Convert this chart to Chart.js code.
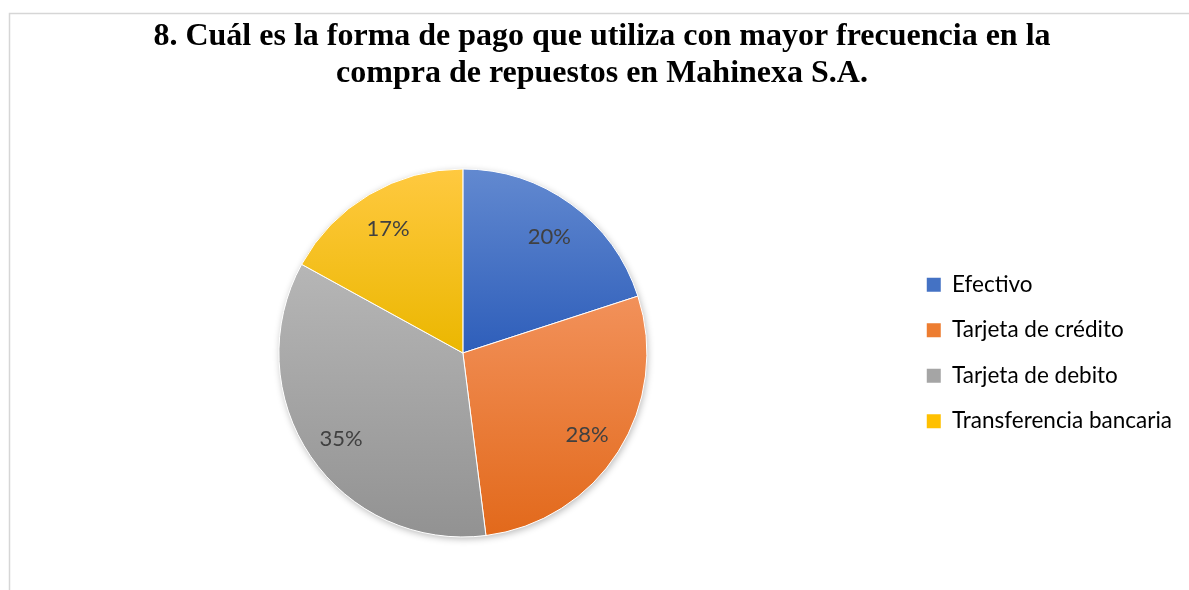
<!DOCTYPE html>
<html>
<head>
<meta charset="utf-8">
<style>
  html, body { margin: 0; padding: 0; background: #ffffff; }
  #wrap { position: relative; width: 1189px; height: 590px; }
</style>
<script src="https://cdn.jsdelivr.net/npm/chart.js@4/dist/chart.umd.min.js"></script>
</head>
<body>
<div id="wrap"><canvas id="pagoChart" width="1189" height="590"></canvas></div>
<script>
const titleLines = [
  '8. Cuál es la forma de pago que utiliza con mayor frecuencia en la',
  'compra de repuestos en Mahinexa S.A.'
];
const paymentTypes = ['Efectivo', 'Tarjeta de crédito', 'Tarjeta de debito', 'Transferencia bancaria'];
const shares = [20, 28, 35, 17];

const sliceColors = {
  solid: ['#4472c4', '#ed7d31', '#a5a5a5', '#ffc000'],
  light: ['#6289d0', '#f2915a', '#b6b6b6', '#ffc940'],
  dark: ['#2e5eba', '#e2691b', '#929292', '#ebb700']
};
const pieRadius = 184;

// vertical extent of one slice, used to stretch its gradient top to bottom
function sliceYRange(index, cy) {
  const total = shares.reduce((a, b) => a + b, 0);
  const before = shares.slice(0, index).reduce((a, b) => a + b, 0);
  const a0 = -Math.PI / 2 + 2 * Math.PI * before / total;
  const a1 = a0 + 2 * Math.PI * shares[index] / total;
  const ys = [cy, cy + pieRadius * Math.sin(a0), cy + pieRadius * Math.sin(a1)];
  [-Math.PI / 2, Math.PI / 2, 3 * Math.PI / 2].forEach((a) => {
    if (a >= a0 - 1e-9 && a <= a1 + 1e-9) ys.push(cy + pieRadius * Math.sin(a));
  });
  return [Math.min(...ys), Math.max(...ys)];
}

function sliceFill(context) {
  const i = context.dataIndex;
  const area = context.chart.chartArea;
  if (!area || i === undefined) return sliceColors.solid[i] || '#999';
  const cy = (area.top + area.bottom) / 2;
  const [y0, y1] = sliceYRange(i, cy);
  const g = context.chart.ctx.createLinearGradient(0, y0, 0, y1);
  g.addColorStop(0, sliceColors.light[i]);
  g.addColorStop(1, sliceColors.dark[i]);
  return g;
}

const framePlugin = {
  id: 'frame',
  beforeDraw(chart) {
    const ctx = chart.ctx;
    ctx.save();
    ctx.strokeStyle = '#d6d6d6';
    ctx.lineWidth = 1.5;
    ctx.beginPath();
    ctx.moveTo(9.5, 600);
    ctx.lineTo(9.5, 13.5);
    ctx.lineTo(1200, 13.5);
    ctx.stroke();
    ctx.restore();
  }
};

// soft drop shadow under the whole pie
const shadowPlugin = {
  id: 'pieShadow',
  beforeDatasetsDraw(chart) {
    const arc = chart.getDatasetMeta(0).data[0];
    if (!arc) return;
    const { x, y, outerRadius } = arc.getProps(['x', 'y', 'outerRadius'], true);
    const ctx = chart.ctx;
    ctx.save();
    ctx.shadowColor = 'rgba(0, 0, 0, 0.28)';
    ctx.shadowBlur = 7;
    ctx.shadowOffsetX = 1;
    ctx.shadowOffsetY = 2;
    ctx.fillStyle = '#ffffff';
    ctx.beginPath();
    ctx.arc(x, y, outerRadius, 0, Math.PI * 2);
    ctx.fill();
    ctx.restore();
  }
};

const percentLabels = {
  id: 'percentLabels',
  afterDatasetsDraw(chart) {
    const ctx = chart.ctx;
    const meta = chart.getDatasetMeta(0);
    ctx.save();
    ctx.font = '22px Lato, "Open Sans", sans-serif';
    ctx.fillStyle = '#404040';
    ctx.textAlign = 'center';
    ctx.textBaseline = 'middle';
    meta.data.forEach((arc, i) => {
      const { x, y, startAngle, endAngle, outerRadius } =
        arc.getProps(['x', 'y', 'startAngle', 'endAngle', 'outerRadius'], true);
      const mid = (startAngle + endAngle) / 2;
      const r = outerRadius * 0.8;
      ctx.fillText(shares[i] + '%', x + Math.cos(mid) * r, y + Math.sin(mid) * r + 3);
    });
    ctx.restore();
  }
};

new Chart(document.getElementById('pagoChart'), {
  type: 'pie',
  data: {
    labels: paymentTypes,
    datasets: [
      {
        data: shares,
        backgroundColor: sliceFill,
        borderColor: '#ffffff',
        borderWidth: 1,
        radius: pieRadius
      }
    ]
  },
  options: {
    responsive: false,
    animation: false,
    layout: {
      padding: { top: 4, left: 22, right: 7, bottom: 14 }
    },
    plugins: {
      title: {
        display: true,
        text: titleLines,
        color: '#000000',
        font: {
          family: '"Liberation Serif", "Times New Roman", serif',
          size: 32,
          weight: 'bold',
          lineHeight: 1.14
        },
        padding: { top: 14.6, bottom: 38.4 }
      },
      legend: {
        position: 'right',
        fullSize: false,
        labels: {
          color: '#595959',
          boxWidth: 14,
          boxHeight: 14,
          padding: 23,
          font: { family: 'Lato, "Open Sans", sans-serif', size: 22.5 },
          generateLabels(chart) {
            return paymentTypes.map((name, i) => ({
              text: name,
              fillStyle: sliceColors.solid[i],
              strokeStyle: sliceColors.solid[i],
              lineWidth: 0,
              index: i
            }));
          }
        }
      },
      tooltip: { enabled: false }
    }
  },
  plugins: [framePlugin, shadowPlugin, percentLabels]
});
</script>
</body>
</html>
